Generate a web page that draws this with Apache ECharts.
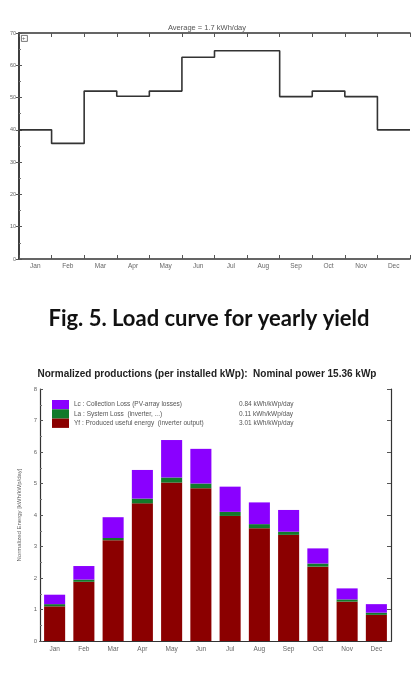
<!DOCTYPE html>
<html><head><meta charset="utf-8">
<script src="https://cdn.jsdelivr.net/npm/echarts@6/dist/echarts.min.js"></script>
<style>html,body{margin:0;padding:0;background:#fff}#c{width:420px;height:682px}</style>
</head><body><div id="c"></div>
<script>
const months = ['Jan','Feb','Mar','Apr','May','Jun','Jul','Aug','Sep','Oct','Nov','Dec'];
const loadValues = [40, 35.8, 52, 50.4, 52, 62.5, 64.5, 64.5, 50.3, 52, 50.3, 40];
const yfValues = [1.10, 1.88, 3.20, 4.37, 5.03, 4.85, 3.97, 3.58, 3.37, 2.36, 1.25, 0.83];
const laValues = [0.07, 0.07, 0.07, 0.15, 0.16, 0.15, 0.13, 0.13, 0.10, 0.10, 0.07, 0.07];
const lcValues = [0.30, 0.43, 0.66, 0.91, 1.19, 1.10, 0.80, 0.69, 0.69, 0.48, 0.35, 0.27];
const legendNames = {
  Lc: 'Lc : Collection Loss (PV-array losses)',
  La: 'La : System Loss  (inverter, ...)',
  Yf: 'Yf : Produced useful energy  (inverter output)'
};
const legendValues = { Lc: '0.84 kWh/kWp/day', La: '0.11 kWh/kWp/day', Yf: '3.01 kWh/kWp/day' };

const stepData = loadValues.map((v, i) => [i, v]).concat([[months.length, loadValues[loadValues.length - 1]]]);

const lineC = '#333';
const labC = '#666';
const chart = echarts.init(document.getElementById('c'), null, {renderer: 'canvas'});
chart.setOption({
  animation: false,
  backgroundColor: '#fff',
  title: [
    {text: 'Average = 1.7 kWh/day', left: 202, top: 19, textAlign: 'center',
     textStyle: {fontSize: 7.5, fontWeight: 'normal', color: '#555', fontFamily: 'Liberation Sans'}},
    {text: 'Fig. 5. Load curve for yearly yield', left: 204, top: 303, textAlign: 'center',
     textStyle: {fontSize: 22, fontWeight: 'bold', color: '#111', fontFamily: 'Lato'}},
    {text: 'Normalized productions (per installed kWp):  Nominal power 15.36 kWp', left: 202, top: 364, textAlign: 'center',
     textStyle: {fontSize: 10, fontWeight: 'bold', color: '#222', fontFamily: 'Liberation Sans'}}
  ],
  grid: [
    {left: 19, top: 33, width: 391, height: 226, outerBoundsMode: 'none', containLabel: false},
    {left: 40, top: 389, width: 351, height: 252, outerBoundsMode: 'none', containLabel: false}
  ],
  legend: {
    data: ['Lc', 'La', 'Yf'],
    orient: 'vertical', left: 47, top: 395, itemGap: 0, itemWidth: 17, itemHeight: 9.3,
    icon: 'rect', selectedMode: false,
    formatter: n => '{a|' + legendNames[n] + '}{b|' + legendValues[n] + '}',
    textStyle: {padding: [0, 0, 0, 0], rich: {
      a: {fontSize: 6.5, color: '#555', width: 165, fontFamily: 'Liberation Sans'},
      b: {fontSize: 6.5, color: '#555', fontFamily: 'Liberation Sans'}
    }}
  },
  xAxis: [
    {gridIndex: 0, type: 'value', min: 0, max: 12, interval: 1, position: 'bottom',
     axisLine: {lineStyle: {color: lineC, width: 1.5}}, axisTick: {inside: true, length: 4, lineStyle: {color: '#555'}},
     axisLabel: {show: false}, splitLine: {show: false}},
    {gridIndex: 0, type: 'category', data: months, boundaryGap: true, position: 'bottom',
     axisLine: {show: false}, axisTick: {show: false},
     axisLabel: {fontSize: 6.5, color: labC, margin: 4, fontFamily: 'Liberation Sans'}},
    {gridIndex: 0, type: 'value', min: 0, max: 12, interval: 1, position: 'top',
     axisLine: {lineStyle: {color: lineC, width: 1.5}}, axisTick: {inside: true, length: 4, lineStyle: {color: '#555'}},
     axisLabel: {show: false}, splitLine: {show: false}},
    {gridIndex: 1, type: 'category', data: months, boundaryGap: true, position: 'bottom',
     axisLine: {lineStyle: {color: lineC, width: 1.2}}, axisTick: {inside: true, length: 3, lineStyle: {color: '#555'}},
     axisLabel: {fontSize: 6.5, color: labC, margin: 5, fontFamily: 'Liberation Sans'}},
    {gridIndex: 1, type: 'category', data: months, boundaryGap: true, position: 'top',
     axisLine: {lineStyle: {color: lineC, width: 1.2}}, axisTick: {inside: true, length: 4, lineStyle: {color: '#555'}},
     axisLabel: {show: false}}
  ],
  yAxis: [
    {gridIndex: 0, type: 'value', min: 0, max: 70, interval: 10, position: 'left',
     name: 'Energy (kWh/day)', nameLocation: 'middle', nameGap: 13, nameRotate: 90,
     nameTextStyle: {fontSize: 5.5, color: '#888', fontFamily: 'Liberation Sans', padding: [0, 0, 0, 0]},
     axisLine: {show: true, lineStyle: {color: lineC, width: 1.5}},
     axisTick: {show: true, inside: true, length: 3, lineStyle: {color: '#555'}},
     minorTick: {show: true, splitNumber: 2, length: 2, lineStyle: {color: '#777'}},
     axisLabel: {fontSize: 5.5, color: labC, margin: 3, fontFamily: 'Liberation Sans'}, splitLine: {show: false}},
    {gridIndex: 0, type: 'value', min: 0, max: 70, interval: 10, position: 'right',
     axisLine: {show: true, lineStyle: {color: lineC, width: 1.5}},
     axisTick: {show: true, inside: true, length: 3, lineStyle: {color: '#555'}},
     axisLabel: {show: false}, splitLine: {show: false}},
    {gridIndex: 1, type: 'value', min: 0, max: 8, interval: 1, position: 'left',
     name: 'Normalized Energy [kWh/kWp/day]', nameLocation: 'middle', nameGap: 15, nameRotate: 90,
     nameTextStyle: {fontSize: 6, color: '#666', fontFamily: 'Liberation Sans'},
     axisLine: {show: true, lineStyle: {color: lineC, width: 1.2}},
     axisTick: {show: true, inside: true, length: 3, lineStyle: {color: '#555'}},
     minorTick: {show: true, splitNumber: 2, length: 2, lineStyle: {color: '#777'}},
     axisLabel: {fontSize: 6, color: labC, margin: 3, fontFamily: 'Liberation Sans'}, splitLine: {show: false}},
    {gridIndex: 1, type: 'value', min: 0, max: 8, interval: 1, position: 'right',
     axisLine: {show: true, lineStyle: {color: lineC, width: 1.2}},
     axisTick: {show: true, inside: true, length: 4, lineStyle: {color: '#555'}},
     axisLabel: {show: false}, splitLine: {show: false}}
  ],
  series: [
    {type: 'line', xAxisIndex: 0, yAxisIndex: 0, step: 'end', data: stepData, showSymbol: false, symbol: 'none',
     lineStyle: {color: '#333', width: 1.6}},
    {name: 'Yf', type: 'bar', stack: 'p', xAxisIndex: 3, yAxisIndex: 2, data: yfValues, barCategoryGap: '28%',
     itemStyle: {color: '#8b0000'}},
    {name: 'La', type: 'bar', stack: 'p', xAxisIndex: 3, yAxisIndex: 2, data: laValues, barCategoryGap: '28%',
     itemStyle: {color: '#127a2a'}},
    {name: 'Lc', type: 'bar', stack: 'p', xAxisIndex: 3, yAxisIndex: 2, data: lcValues, barCategoryGap: '28%',
     itemStyle: {color: '#8a00ff'}}
  ],
  graphic: [
    {type: 'rect', left: 21, top: 35, shape: {width: 6, height: 6}, style: {fill: '#fff', stroke: '#555', lineWidth: 0.8}},
    {type: 'text', left: 22, top: 35, style: {text: '+', fontSize: 6, fill: '#555'}}
  ]
});
</script></body></html>
